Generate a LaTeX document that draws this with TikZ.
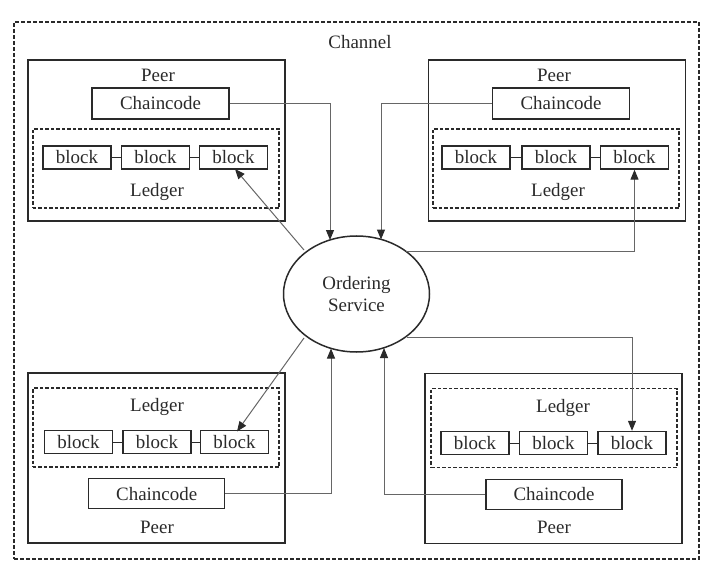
\documentclass[tikz,border=0pt]{standalone}
\usepackage{fontspec}
\setmainfont{Liberation Serif}
\usetikzlibrary{arrows.meta,shapes.geometric}
\definecolor{ink}{HTML}{2A2A2A}
\definecolor{wire}{HTML}{666666}
\tikzset{
  peerbox/.style={draw=ink,line width=1.8bp,minimum width=257bp,inner sep=0pt},
  ledgerbox/.style={draw=ink,line width=1.3bp,dash pattern=on 3.5bp off 2bp,minimum width=246bp,minimum height=79bp,inner sep=0pt},
  ccbox/.style={draw=ink,line width=1.4bp,minimum width=136bp,minimum height=30bp,inner sep=0pt,font=\fontsize{19}{20}\selectfont,text=ink},
  blk/.style={draw=ink,line width=1.4bp,minimum width=68bp,minimum height=23bp,inner sep=0pt,font=\fontsize{19}{20}\selectfont,text=ink},
  lbl/.style={inner sep=0pt,font=\fontsize{19}{20}\selectfont,text=ink},
  link/.style={draw=ink,line width=1bp},
  conn/.style={draw=wire,line width=1bp,-{Triangle[length=10bp,width=8bp,color=ink,fill=ink]}},
}
\begin{document}
\begin{tikzpicture}[x=1bp,y=-1bp]
\useasboundingbox (0,0) rectangle (724,574);
% channel
\node[draw=ink,line width=1.3bp,dash pattern=on 4bp off 2bp,minimum width=685bp,minimum height=537bp,inner sep=0pt] (chan) at (356.5,290.5) {};
\node[lbl] (chanlbl) at (360,42) {Channel};
% ordering service
\node[ellipse,draw=ink,line width=1.5bp,minimum width=146bp,minimum height=116bp,inner sep=0pt,align=center,font=\fontsize{19}{22}\selectfont,text=ink] (ord) at (356.5,294) {Ordering\\Service};

% ---------- top-left peer ----------
\node[peerbox,minimum height=161bp] (p1) at (156.5,140.5) {};
\node[lbl] (p1l) at (158,75) {Peer};
\node[ccbox,minimum width=137bp,minimum height=31bp] (c1) at (160.5,103.5) {Chaincode};
\node[ledgerbox] (l1) at (156,168.5) {};
\node[lbl] (l1l) at (157,192) {Ledger};
\node[blk] (b11) at (77,157.5) {block};
\node[blk] (b12) at (155.5,157.5) {block};
\node[blk] (b13) at (233.5,157.5) {block};
\draw[link] (b11) -- (b12); \draw[link] (b12) -- (b13);

% ---------- top-right peer ----------
\node[peerbox,minimum height=161bp] (p2) at (557,140.5) {};
\node[lbl] (p2l) at (554,75) {Peer};
\node[ccbox,minimum width=137bp,minimum height=31bp] (c2) at (561,103.5) {Chaincode};
\node[ledgerbox] (l2) at (556,168.5) {};
\node[lbl] (l2l) at (558,192) {Ledger};
\node[blk] (b21) at (476,157.5) {block};
\node[blk] (b22) at (556,157.5) {block};
\node[blk] (b23) at (634.5,157.5) {block};
\draw[link] (b21) -- (b22); \draw[link] (b22) -- (b23);

% ---------- bottom-left peer ----------
\node[peerbox,minimum height=170bp] (p3) at (156.5,458) {};
\node[ledgerbox] (l3) at (156,427.5) {};
\node[lbl] (l3l) at (157,407) {Ledger};
\node[blk] (b31) at (78.5,442) {block};
\node[blk] (b32) at (157,442) {block};
\node[blk] (b33) at (234.5,442) {block};
\draw[link] (b31) -- (b32); \draw[link] (b32) -- (b33);
\node[ccbox] (c3) at (156.7,493.7) {Chaincode};
\node[lbl] (p3l) at (157,527) {Peer};

% ---------- bottom-right peer ----------
\node[peerbox,minimum height=170bp] (p4) at (553.5,458.5) {};
\node[ledgerbox] (l4) at (554,428) {};
\node[lbl] (l4l) at (563,407.7) {Ledger};
\node[blk] (b41) at (475,443) {block};
\node[blk] (b42) at (553.5,443) {block};
\node[blk] (b43) at (632,443) {block};
\draw[link] (b41) -- (b42); \draw[link] (b42) -- (b43);
\node[ccbox] (c4) at (554,494.3) {Chaincode};
\node[lbl] (p4l) at (554,527.7) {Peer};

% ---------- connector end points on the ellipse ----------
\coordinate (e1) at (330,240);
\coordinate (e2) at (381,239.5);
\coordinate (e3) at (406,251);
\coordinate (e4) at (304,250);
\coordinate (e5) at (331,348.5);
\coordinate (e6) at (304,338);
\coordinate (e7) at (407,337);
\coordinate (e8) at (384,348);
\coordinate (t4) at (235,169);
\coordinate (t6) at (237,431.5);

% ---------- connectors ----------
\draw[conn] (c1.east) -| (e1);
\draw[conn] (c2.west) -| (e2);
\draw[conn] (e3) -| (b23.south);
\draw[conn] (e4) -- (t4);
\draw[conn] (c3.east) -| (e5);
\draw[conn] (e6) -- (t6);
\draw[conn] (e7) -| (b43.north);
\draw[conn] (c4.west) -| (e8);
\end{tikzpicture}
\end{document}
